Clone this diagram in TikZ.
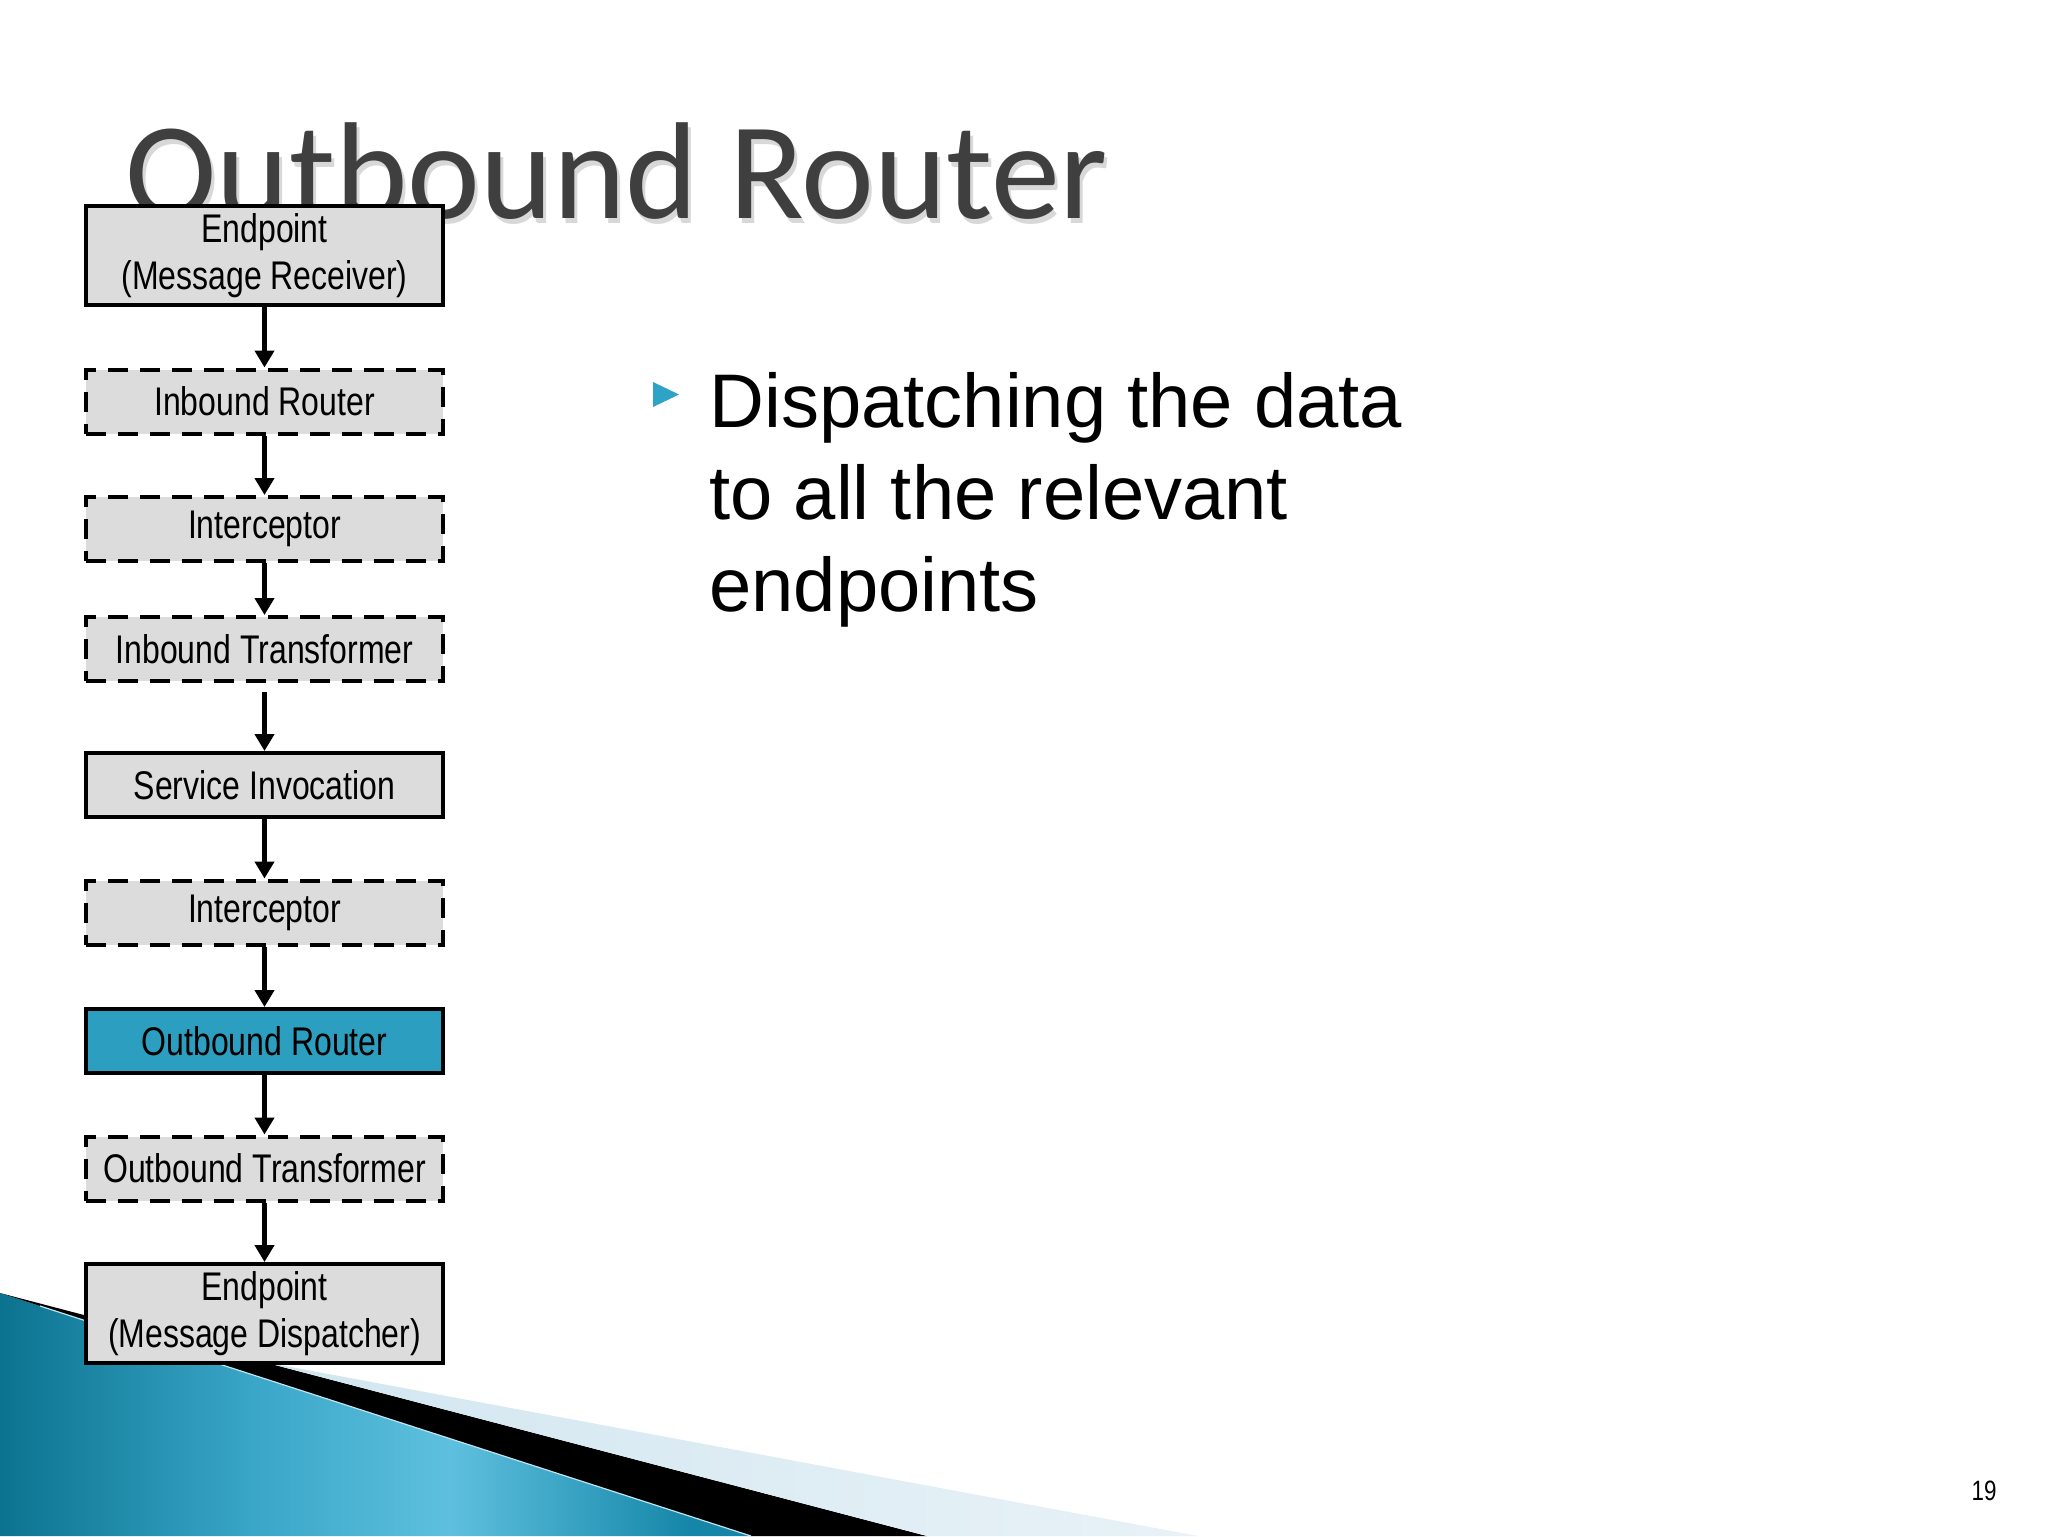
\documentclass[tikz,border=0pt]{standalone}
\usepackage{fontspec}
\setmainfont{Liberation Sans}
\newfontfamily\titlefont{Carlito}
\newfontfamily\narrowfont[FakeStretch=0.8]{Liberation Sans}
\usetikzlibrary{arrows.meta}
\definecolor{boxgray}{HTML}{DCDCDC}
\definecolor{routerblue}{HTML}{2C9FC1}
\definecolor{titlegray}{HTML}{3F3F3F}
\definecolor{bulletblue}{HTML}{2FA3C6}
\definecolor{tealdark}{HTML}{0B7390}
\definecolor{tealhalf}{HTML}{3AA6C8}
\definecolor{teallight}{HTML}{5EC0DE}
\definecolor{tealmid}{HTML}{1586A8}
\definecolor{bandlight}{HTML}{D2E6F0}
\definecolor{bandfade}{HTML}{E8F2F7}
\pgfdeclarehorizontalshading{tealswoosh}{100bp}{color(0bp)=(tealdark); color(25bp)=(tealdark);
  color(42bp)=(tealhalf); color(55bp)=(teallight); color(71bp)=(tealmid); color(100bp)=(tealmid)}
\tikzset{
  stagebox/.style={draw=black, line width=2pt, fill=boxgray, minimum width=178.5pt,
    minimum height=32pt, inner sep=0pt, align=center,
    font=\narrowfont\fontsize{20}{23.5}\selectfont},
  optbox/.style={stagebox, dash pattern=on 10pt off 6pt},
  tallbox/.style={minimum height=49.5pt},
  activebox/.style={fill=routerblue},
  flow/.style={line width=2.5pt, -{Triangle[length=8.5pt,width=9.5pt]}},
  bodytext/.style={anchor=base west, inner sep=0pt, font=\fontsize{38}{46}\selectfont},
}
\begin{document}
\begin{tikzpicture}[x=0.5pt,y=-0.5pt]
\useasboundingbox (0,0) rectangle (2048,1536);
\fill[white] (0,0) rectangle (2048,1536);

% bottom-left decoration
\shade[shading=tealswoosh] (0,1293) -- (751,1536) -- (0,1536) -- cycle;
\fill[black] (0,1293) -- (927,1536) -- (751,1536) -- cycle;
\draw[white!60!teallight, line width=0.6pt] (40,1306) -- (751,1536);
\shade[left color=bandlight, right color=bandfade]
  (264,1362) -- (1198,1536) -- (927,1536) -- cycle;

% title
\node[anchor=base west, inner sep=0pt, text=black!30, opacity=0.5] (titleshadow) at (128,223)
  {\titlefont\fontsize{69}{80}\selectfont Outbound Router};
\node[anchor=base west, inner sep=0pt, text=titlegray] (title) at (125,218)
  {\titlefont\fontsize{69}{80}\selectfont Outbound Router};

% pipeline
\node[stagebox, tallbox] (recv) at (264.5,255.5) {Endpoint\\(Message Receiver)};
\node[optbox] (inrouter) at (264.5,401.5) {Inbound Router};
\node[optbox] (intercept1) at (264.5,529) {Interceptor};
\node[optbox] (intrans) at (264.5,649) {Inbound Transformer};
\node[stagebox] (service) at (264.5,785) {Service Invocation};
\node[optbox] (intercept2) at (264.5,912.5) {Interceptor};
\node[stagebox, activebox] (outrouter) at (264.5,1041) {Outbound Router};
\node[optbox] (outtrans) at (264.5,1168.5) {Outbound Transformer};
\node[stagebox, tallbox] (disp) at (264.5,1313.5) {Endpoint\\(Message Dispatcher)};

\draw[flow] (recv.south) -- (inrouter.north);
\draw[flow] (inrouter.south) -- (intercept1.north);
\draw[flow] (intercept1.south) -- (intrans.north);
\draw[flow, shorten <=4.5pt] (intrans.south) -- (service.north);
\draw[flow] (service.south) -- (intercept2.north);
\draw[flow] (intercept2.south) -- (outrouter.north);
\draw[flow] (outrouter.south) -- (outtrans.north);
\draw[flow] (outtrans.south) -- (disp.north);

% bullet
\fill[bulletblue] (653,382) -- (679,394.5) -- (653,407) -- cycle;
\node[bodytext] (line1) at (709,427) {Dispatching the data};
\node[bodytext] (line2) at (709,519) {to all the relevant};
\node[bodytext] (line3) at (709,611) {endpoints};

% page number
\node[anchor=base east, inner sep=0pt] (pagenum) at (1997,1500)
  {\narrowfont\fontsize{14}{16}\selectfont 19};
\end{tikzpicture}
\end{document}
